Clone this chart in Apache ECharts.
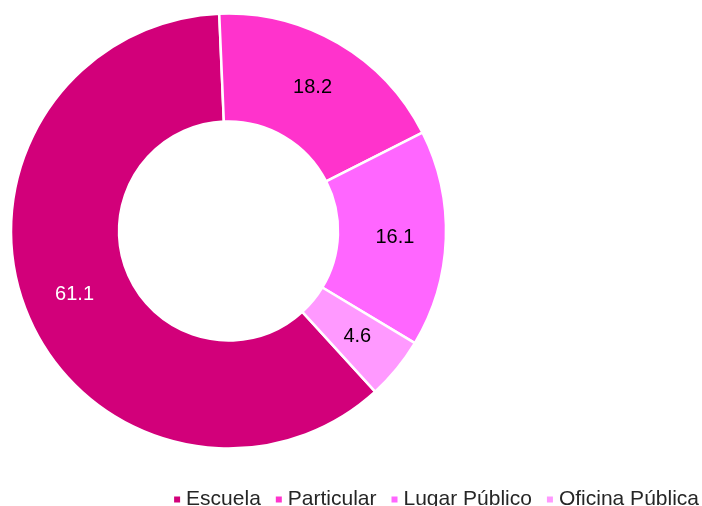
<!DOCTYPE html>
<html>
<head>
<meta charset="utf-8">
<script src="https://cdn.jsdelivr.net/npm/echarts@6/dist/echarts.min.js"></script>
<style>
html,body{margin:0;padding:0;background:#fff;}
#chart{width:702px;height:506px;}
</style>
</head>
<body>
<div id="chart"></div>
<script>
const categories = ['Escuela', 'Particular', 'Lugar Público', 'Oficina Pública'];
const values = [61.1, 18.2, 16.1, 4.6];
const colors = ['#D2007A', '#FF33CC', '#FF66FF', '#FF99FF'];
const labelColors = ['#ffffff', '#000000', '#000000', '#000000'];

const chart = echarts.init(document.getElementById('chart'), null, {renderer: 'canvas'});
chart.setOption({
  animation: false,
  backgroundColor: '#ffffff',
  legend: {
    data: categories,
    right: -2,
    top: 484,
    icon: 'rect',
    itemWidth: 8,
    itemHeight: 8,
    itemGap: 13,
    textStyle: {fontSize: 21, fontFamily: 'Liberation Sans, Arial, sans-serif', color: '#262626', padding: [0, 0, 0, 0]}
  },
  series: [{
    type: 'pie',
    center: [228.5, 231],
    radius: [109.5, 217.5],
    startAngle: -47.6,
    clockwise: true,
    avoidLabelOverlap: false,
    silent: true,
    itemStyle: {borderColor: '#ffffff', borderWidth: 2.5},
    label: {
      show: true,
      position: 'inside',
      fontSize: 20,
      fontFamily: 'Liberation Sans, Arial, sans-serif',
      formatter: p => p.value.toFixed(1)
    },
    labelLine: {show: false},
    data: categories.map((c, i) => ({
      name: c,
      value: values[i],
      itemStyle: {color: colors[i]},
      label: {color: labelColors[i]}
    }))
  }]
});
</script>
</body>
</html>
